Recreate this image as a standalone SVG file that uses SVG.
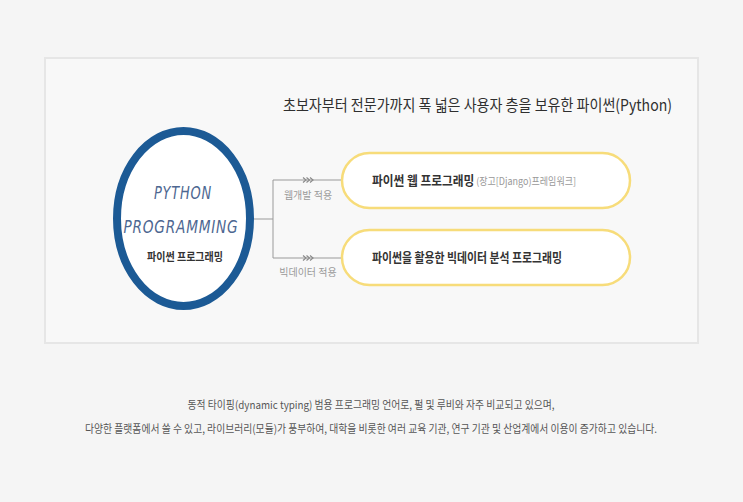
<svg xmlns="http://www.w3.org/2000/svg" width="743" height="502" viewBox="0 0 743 502">
<defs>
<style>
.kr{font-family:"Noto Sans CJK KR","Noto Sans",sans-serif}
.pill{fill:#ffffff;stroke:#f7dc7a;stroke-width:2.5}
.conn{fill:none;stroke:#9a9a9a;stroke-width:1}
.lab{font-size:10px;fill:#9a9a9a}
.main{font-size:13px;font-weight:bold;fill:#333}
.hand{font-family:"DejaVu Sans","Liberation Sans",sans-serif;font-size:17px;fill:#4d6791;font-style:italic;letter-spacing:1px}
</style>
<g id="chev">
<path d="M0,-2.5 L3,0 L0,2.5 M3.5,-2.5 L6.5,0 L3.5,2.5 M7,-2.5 L10,0 L7,2.5" fill="none" stroke="#8a8a8a" stroke-width="1.2"/>
</g>
</defs>
<rect x="0" y="0" width="743" height="502" fill="#f5f5f5"/>
<rect id="panel" x="45" y="58" width="653" height="285" fill="#f8f8f8" stroke="#e6e6e6" stroke-width="2"/>
<text class="kr" x="283" y="111" font-size="16" fill="#2f2f2f" textLength="389" lengthAdjust="spacingAndGlyphs">초보자부터 전문가까지 폭 넓은 사용자 층을 보유한 파이썬(Python)</text>
<g id="connectors">
<path class="conn" d="M254,219 H273 M273,180 V258 M273,180 H342 M273,258 H342"/>
<use href="#chev" x="303" y="180"/>
<use href="#chev" x="303" y="258"/>
<text class="kr lab" x="308" y="199" text-anchor="middle">웹개발 적용</text>
<text class="kr lab" x="308" y="276" text-anchor="middle">빅데이터 적용</text>
</g>
<g id="python">
<ellipse cx="183.5" cy="218.5" rx="66.5" ry="87.5" fill="#ffffff" stroke="#1c5a95" stroke-width="8"/>
<text class="hand" x="183" y="199" text-anchor="middle" textLength="58" lengthAdjust="spacingAndGlyphs">PYTHON</text>
<text class="hand" x="181" y="233" text-anchor="middle" textLength="115" lengthAdjust="spacingAndGlyphs">PROGRAMMING</text>
<text class="kr" x="185" y="261" text-anchor="middle" font-size="11" font-weight="bold" fill="#333" textLength="76" lengthAdjust="spacingAndGlyphs">파이썬 프로그래밍</text>
</g>
<g id="web">
<rect class="pill" x="342" y="153" width="288" height="55" rx="27.5"/>
<text class="kr" x="372" y="185" textLength="204" lengthAdjust="spacingAndGlyphs"><tspan class="main">파이썬 웹 프로그래밍</tspan><tspan font-size="10" fill="#999"> (장고[Django)프레임워크]</tspan></text>
</g>
<g id="bigdata">
<rect class="pill" x="342" y="230" width="288" height="55" rx="27.5"/>
<text class="kr main" x="372" y="262" textLength="190" lengthAdjust="spacingAndGlyphs">파이썬을 활용한 빅데이터 분석 프로그래밍</text>
</g>
<g id="desc" class="kr" font-size="11" fill="#555" text-anchor="middle">
<text x="371" y="409" textLength="367" lengthAdjust="spacingAndGlyphs">동적 타이핑(dynamic typing) 범용 프로그래밍 언어로, 펄 및 루비와 자주 비교되고 있으며,</text>
<text x="371" y="433" textLength="572" lengthAdjust="spacingAndGlyphs">다양한 플랫폼에서 쓸 수 있고, 라이브러리(모듈)가 풍부하여, 대학을 비롯한 여러 교육 기관, 연구 기관 및 산업계에서 이용이 증가하고 있습니다.</text>
</g>
</svg>
